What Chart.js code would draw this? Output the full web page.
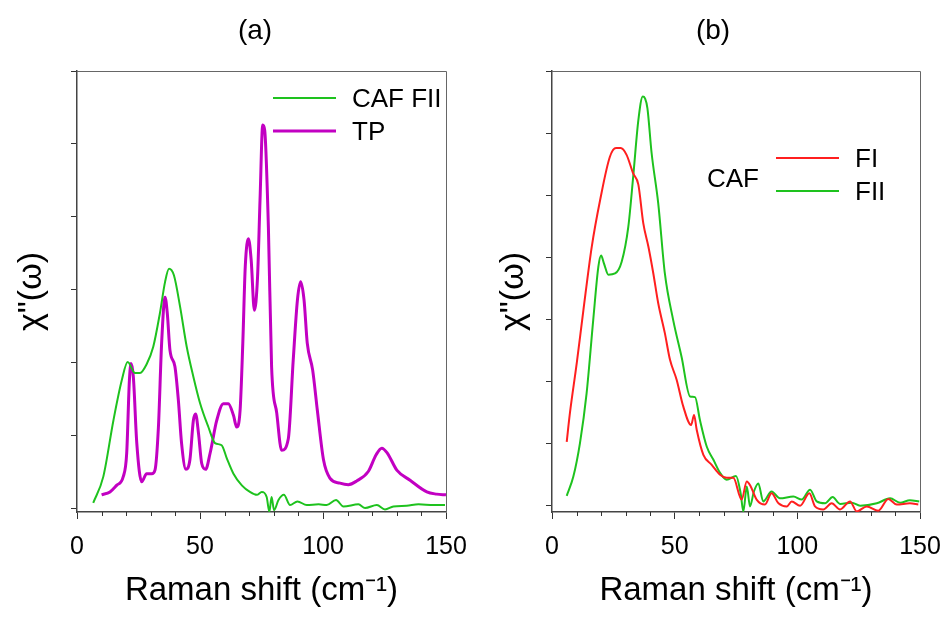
<!DOCTYPE html>
<html>
<head>
<meta charset="utf-8">
<script src="https://cdn.jsdelivr.net/npm/chart.js@4.4.0/dist/chart.umd.min.js"></script>
<style>
  html, body { margin: 0; padding: 0; background: #fff; }
  #wrap { position: relative; width: 946px; height: 618px; }
  .panel { position: absolute; top: 0; width: 473px; height: 618px; }
</style>
</head>
<body>
<div id="wrap">
  <div class="panel" style="left:0"><canvas id="chartA"></canvas></div>
  <div class="panel" style="left:473px"><canvas id="chartB"></canvas></div>
</div>
<script>
// ---- data (x = Raman shift in cm-1, y = chi'' in arb. units) ----
const xTicks = [0, 50, 100, 150];
const xMinorTicks = [10, 20, 30, 40, 60, 70, 80, 90, 110, 120, 130, 140];
const yTicksA = [0, 1, 2, 3, 4, 5, 6];
const yTicksB = [0, 1, 2, 3, 4, 5, 6, 7];

// panel (a) CAF FII
const cafFIIaShift = [6.6, 10.7, 14.8, 18.2, 20.6, 23.6, 25.6, 28.3, 31, 33.7, 35.8, 37.4, 39.4, 41.9, 44.6, 47.3, 50, 53.4, 56.1, 58.8, 60.9, 63.6, 67, 70.3, 73.1, 75.1, 77.1, 78.2, 79.1, 80.1, 81.9, 84.1, 86.6, 89.6, 93.4, 98.2, 101.5, 105.3, 108.3, 114.4, 117.1, 121.9, 125.2, 128.6, 134, 138.8, 144.9, 149.6];
const cafFIIaChi = [0.08, 0.44, 1.21, 1.76, 2.01, 1.86, 1.86, 1.98, 2.22, 2.68, 3.11, 3.29, 3.2, 2.77, 2.22, 1.81, 1.45, 1.12, 0.9, 0.87, 0.69, 0.48, 0.32, 0.23, 0.19, 0.23, 0.16, -0.04, 0.16, -0.02, 0.12, 0.19, 0.05, 0.1, 0.05, 0.06, 0.05, 0.12, 0.03, 0.06, 0.01, 0.05, -0.01, 0.03, 0.04, 0.06, 0.05, 0.05];

// panel (a) TP
const tpShift = [10, 13.4, 16.1, 18.8, 20.2, 21.3, 22, 22.9, 24.3, 26.3, 28.3, 30.4, 31.7, 33.1, 34.4, 35.8, 36.7, 37.8, 39.8, 41.2, 42.5, 44.3, 45.9, 47.3, 48.2, 49.4, 50.7, 52.3, 54.1, 56.8, 59.5, 61.5, 63.6, 64.9, 66.3, 67.4, 68.4, 69.7, 70.8, 72.1, 73.4, 74.4, 75.5, 76.3, 77.8, 79.1, 81.2, 83.2, 85.9, 87.9, 89.6, 90.9, 92.3, 93.6, 95.8, 97.7, 100.2, 102.8, 106.9, 110.3, 113.7, 118.4, 121.6, 123.9, 126.2, 130, 135.4, 142.2, 146.2, 150];
const tpChi = [0.19, 0.23, 0.32, 0.44, 0.76, 1.76, 1.99, 1.81, 0.9, 0.37, 0.48, 0.48, 0.53, 1.12, 2.27, 2.9, 2.68, 2.17, 1.95, 1.49, 0.9, 0.54, 0.67, 1.21, 1.3, 1.03, 0.62, 0.54, 0.76, 1.21, 1.44, 1.44, 1.28, 1.12, 1.35, 2.27, 3.32, 3.7, 3.41, 2.72, 3.18, 4.23, 5.26, 5.19, 3.86, 1.95, 1.31, 0.8, 0.96, 2.04, 2.86, 3.11, 2.86, 2.27, 1.9, 1.35, 0.67, 0.42, 0.35, 0.33, 0.38, 0.51, 0.74, 0.83, 0.76, 0.53, 0.39, 0.23, 0.2, 0.19];

// panel (b) CAF FI
const cafFIShift = [6, 7.3, 10.1, 12.8, 16.2, 19.6, 23.6, 26.1, 28, 30.4, 33.1, 35.2, 37.2, 39.3, 41.3, 43.3, 46, 48.1, 50.8, 53.5, 56.7, 57.9, 59, 61.7, 65.1, 68.5, 71.2, 73.9, 77.3, 79.4, 81, 83.4, 86.8, 89.5, 92.3, 95.7, 97.7, 101.1, 104.9, 107.2, 110.6, 114, 117.4, 121.5, 124.2, 128.3, 133, 137.1, 140.5, 145.9, 149.3];
const cafFIChi = [1.03, 1.49, 2.3, 3.15, 4.17, 4.92, 5.62, 5.76, 5.76, 5.65, 5.35, 5.17, 4.55, 4.17, 3.74, 3.26, 2.78, 2.35, 2.03, 1.6, 1.3, 1.46, 1.22, 0.82, 0.66, 0.5, 0.45, 0.45, 0.1, 0.39, 0.31, 0.1, 0.02, 0.2, 0.04, -0.01, 0.07, 0, 0.2, -0.01, -0.06, 0.04, -0.06, 0.07, -0.09, -0.01, -0.08, 0.11, 0.02, 0.04, 0.02];

// panel (b) CAF FII
const cafFIIbShift = [6, 8.7, 11.4, 14.1, 16.8, 18.9, 20, 21.2, 23, 25.7, 28.4, 31.1, 33.1, 35.2, 37, 37.9, 38.9, 40.6, 43.3, 46, 49.4, 52.8, 56.3, 58.3, 60.3, 63.1, 65.8, 68.5, 71.2, 75, 76.9, 78, 79.4, 80.7, 82.3, 84.1, 86.1, 89.5, 92.9, 98.4, 101.8, 105.2, 107.9, 111.3, 114.4, 117.4, 122.2, 125.6, 132.4, 137.8, 141.9, 145.9, 149.7];
const cafFIIbChi = [0.16, 0.47, 1.01, 1.81, 2.99, 3.85, 4.03, 3.9, 3.72, 3.74, 3.93, 4.49, 5.3, 6.21, 6.59, 6.56, 6.4, 5.68, 4.87, 3.74, 2.99, 2.4, 1.76, 1.75, 1.38, 0.95, 0.74, 0.53, 0.42, 0.48, 0.2, -0.09, 0.31, -0.01, 0.23, 0.36, 0.07, 0.23, 0.12, 0.15, 0.1, 0.26, 0.07, 0.04, 0.14, 0.03, 0.05, 0, 0.04, 0.12, 0.05, 0.09, 0.07];

const FONT = '"Liberation Sans", Arial, sans-serif';
const GREEN = '#1ec21e';
const MAGENTA = '#c200c2';
const RED = '#ff1f1f';

function points(xs, ys) {
    return xs.map((x, i) => ({ x: x, y: ys[i] }));
}

// frame, minor ticks, panel letter and hand placed legend
const panelExtras = {
    id: 'panelExtras',
    afterDraw(chart, args, opts) {
        const ctx = chart.ctx;
        const area = chart.chartArea;
        const xs = chart.scales.x;
        ctx.save();
        // top and right frame
        ctx.strokeStyle = '#666';
        ctx.lineWidth = 1;
        ctx.beginPath();
        ctx.moveTo(area.left, area.top + 0.5);
        ctx.lineTo(area.right + 0.5, area.top + 0.5);
        ctx.lineTo(area.right + 0.5, area.bottom);
        ctx.stroke();
        // minor x ticks
        ctx.strokeStyle = '#333';
        ctx.lineWidth = 1;
        xMinorTicks.forEach(v => {
            const px = Math.round(xs.getPixelForValue(v)) + 0.5;
            ctx.beginPath();
            ctx.moveTo(px, area.bottom);
            ctx.lineTo(px, area.bottom + 4);
            ctx.stroke();
        });
        // panel letter
        ctx.fillStyle = '#000';
        ctx.font = '28px ' + FONT;
        ctx.textAlign = 'center';
        ctx.textBaseline = 'middle';
        ctx.fillText(opts.letter, opts.letterX, 31);
        // legend
        ctx.font = '26px ' + FONT;
        ctx.textAlign = 'left';
        ctx.textBaseline = 'alphabetic';
        opts.legend.forEach(item => {
            const ds = chart.data.datasets[item.index];
            ctx.strokeStyle = ds.borderColor;
            ctx.lineWidth = ds.borderWidth;
            ctx.beginPath();
            ctx.moveTo(item.x1, item.y);
            ctx.lineTo(item.x2, item.y);
            ctx.stroke();
            ctx.fillText(ds.label, item.textX, item.y + 9);
        });
        if (opts.group) {
            ctx.fillText(opts.group.text, opts.group.x, opts.group.y);
        }
        ctx.restore();
    }
};

function makePanel(canvasId, datasets, cfg) {
    return new Chart(document.getElementById(canvasId), {
        type: 'line',
        data: { datasets: datasets },
        options: {
            responsive: true,
            maintainAspectRatio: false,
            animation: false,
            layout: { padding: { left: 0, right: cfg.padRight, top: 71, bottom: 0 } },
            elements: { point: { radius: 0 } },
            plugins: {
                legend: { display: false },
                tooltip: { enabled: false },
                panelExtras: cfg.extras
            },
            scales: {
                x: {
                    type: 'linear',
                    min: 0,
                    max: 150,
                    afterBuildTicks: s => { s.ticks = xTicks.map(v => ({ value: v })); },
                    afterFit: s => { s.height = 106; s.paddingLeft = 0; s.paddingRight = 0; },
                    grid: { drawOnChartArea: false, drawTicks: true, tickLength: 7, color: '#333', lineWidth: 1 },
                    border: { display: true, color: '#444', width: 1.5 },
                    ticks: { color: '#000', padding: 13, font: { family: FONT, size: 25 }, maxRotation: 0 },
                    title: {
                        display: true,
                        text: 'Raman shift (cm\u207B\u00B9)',
                        color: '#000',
                        font: { family: FONT, size: 33 },
                        padding: { top: 0, bottom: 7 }
                    }
                },
                y: {
                    type: 'linear',
                    min: cfg.yMin,
                    max: cfg.yMax,
                    afterBuildTicks: s => { s.ticks = cfg.yTicks.map(v => ({ value: v })); },
                    afterFit: s => { s.width = cfg.axisLeft; },
                    grid: { drawOnChartArea: false, drawTicks: true, tickLength: 6, color: '#333', lineWidth: 1 },
                    border: { display: true, color: '#444', width: 1.5 },
                    ticks: { display: false },
                    title: {
                        display: true,
                        text: 'χ"(ω)',
                        color: '#000',
                        font: { family: FONT, size: 34 },
                        padding: { top: cfg.yTitlePad, bottom: 0 }
                    }
                }
            }
        },
        plugins: [panelExtras]
    });
}

makePanel('chartA', [
    { label: 'CAF FII', data: points(cafFIIaShift, cafFIIaChi), borderColor: GREEN, borderWidth: 2, cubicInterpolationMode: 'monotone', fill: false },
    { label: 'TP', data: points(tpShift, tpChi), borderColor: MAGENTA, borderWidth: 3, cubicInterpolationMode: 'monotone', fill: false }
], {
    padRight: 27, axisLeft: 77, yMin: -0.045, yMax: 6, yTicks: yTicksA, yTitlePad: 11,
    extras: {
        letter: '(a)', letterX: 255,
        legend: [
            { index: 0, x1: 273, x2: 336, y: 98, textX: 352 },
            { index: 1, x1: 273, x2: 336, y: 131, textX: 352 }
        ]
    }
});

makePanel('chartB', [
    { label: 'FI', data: points(cafFIShift, cafFIChi), borderColor: RED, borderWidth: 2, cubicInterpolationMode: 'monotone', fill: false },
    { label: 'FII', data: points(cafFIIbShift, cafFIIbChi), borderColor: GREEN, borderWidth: 2, cubicInterpolationMode: 'monotone', fill: false }
], {
    padRight: 26, axisLeft: 79, yMin: -0.1, yMax: 7, yTicks: yTicksB, yTitlePad: 20,
    extras: {
        letter: '(b)', letterX: 240,
        legend: [
            { index: 0, x1: 303, x2: 366, y: 158, textX: 382 },
            { index: 1, x1: 303, x2: 366, y: 191, textX: 382 }
        ],
        group: { text: 'CAF', x: 234, y: 187 }
    }
});
</script>
</body>
</html>
